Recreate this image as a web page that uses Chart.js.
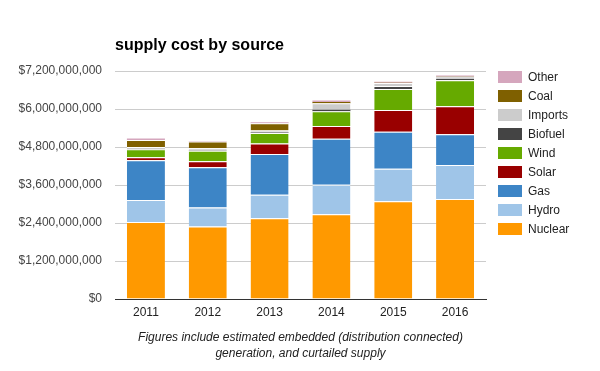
<!DOCTYPE html>
<html lang="en">
<head>
    <meta charset="UTF-8">
    <title>supply cost by source</title>
    <script src="https://cdn.jsdelivr.net/npm/chart.js"></script>
    <style>
        html, body { margin: 0; padding: 0; background: #fff; }
        #wrap { position: relative; width: 600px; height: 371px; }
    </style>
</head>
<body>
    <div id="wrap"><canvas id="costChart" width="600" height="371"></canvas></div>

    <script>
        // years on the x axis
        var years = ['2011', '2012', '2013', '2014', '2015', '2016'];

        // cost per source, dollars
        var nuclear = [2.43e9, 2.29e9, 2.55e9, 2.68e9, 3.09e9, 3.16e9];
        var hydro   = [0.70e9, 0.60e9, 0.74e9, 0.93e9, 1.02e9, 1.07e9];
        var gas     = [1.25e9, 1.27e9, 1.29e9, 1.45e9, 1.17e9, 0.97e9];
        var solar   = [0.10e9, 0.19e9, 0.33e9, 0.40e9, 0.69e9, 0.89e9];
        var wind    = [0.25e9, 0.33e9, 0.33e9, 0.47e9, 0.66e9, 0.82e9];
        var biofuel = [0.01e9, 0.01e9, 0.02e9, 0.05e9, 0.10e9, 0.08e9];
        var imports = [0.06e9, 0.07e9, 0.06e9, 0.20e9, 0.09e9, 0.03e9];
        var coal    = [0.22e9, 0.21e9, 0.23e9, 0.04e9, 0.01e9, 0.01e9];
        var other   = [0.05e9, 0.02e9, 0.03e9, 0.05e9, 0.03e9, 0.03e9];

        var yMax = 7.2e9;
        var yStep = 1.2e9;

        var FONT = '"Liberation Sans", Arial, sans-serif';

        // thin slices keep their colour, bigger ones get a white seam on top
        function seam(context) {
            var v = context.raw || 0;
            return { top: v >= 0.06e9 ? 1 : 0, left: 0, right: 0, bottom: 0 };
        }

        function series(label, values, color) {
            return {
                label: label,
                data: values,
                backgroundColor: color,
                borderColor: '#ffffff',
                borderWidth: seam,
                borderSkipped: false,
                barPercentage: 0.615,
                categoryPercentage: 1.0
            };
        }

        // bottom of the stack first
        var datasets = [
            series('Nuclear', nuclear, '#ff9900'),
            series('Hydro', hydro, '#9fc5e8'),
            series('Gas', gas, '#3d85c6'),
            series('Solar', solar, '#990000'),
            series('Wind', wind, '#66aa00'),
            series('Biofuel', biofuel, '#444444'),
            series('Imports', imports, '#cccccc'),
            series('Coal', coal, '#7f6000'),
            series('Other', other, '#d5a6bd')
        ];

        // title, footnote and legend drawn by hand
        var extras = {
            id: 'extras',
            afterDraw: function (chart) {
                var c = chart.ctx;
                var area = chart.chartArea;
                c.save();

                c.fillStyle = '#000';
                c.font = 'bold 16px ' + FONT;
                c.textAlign = 'left';
                c.textBaseline = 'alphabetic';
                c.fillText('supply cost by source', area.left, 50);

                c.fillStyle = '#222';
                c.font = 'italic 12px ' + FONT;
                c.textAlign = 'center';
                var mid = (area.left + area.right) / 2;
                c.fillText('Figures include estimated embedded (distribution connected)', mid, 341);
                c.fillText('generation, and curtailed supply', mid, 357);

                // legend, top item is the last dataset
                c.font = '12px ' + FONT;
                c.textAlign = 'left';
                c.textBaseline = 'middle';
                var ds = chart.data.datasets;
                for (var i = ds.length - 1, row = 0; i >= 0; i--, row++) {
                    var cy = 76.7 + row * 19.06;
                    c.fillStyle = ds[i].backgroundColor;
                    c.fillRect(498, Math.round(cy - 6), 24, 12);
                    c.fillStyle = '#222';
                    c.fillText(ds[i].label, 528, cy + 0.5);
                }
                c.restore();
            }
        };

        var ctx = document.getElementById('costChart').getContext('2d');
        var costChart = new Chart(ctx, {
            type: 'bar',
            data: { labels: years, datasets: datasets },
            plugins: [extras],
            options: {
                responsive: false,
                animation: false,
                layout: { padding: { left: 0, right: 114, top: 71, bottom: 42 } },
                plugins: {
                    legend: { display: false },
                    title: { display: false },
                    tooltip: { enabled: false }
                },
                scales: {
                    x: {
                        stacked: true,
                        grid: { display: false, drawTicks: false },
                        border: { display: true, color: '#333333', width: 1 },
                        ticks: { color: '#222', font: { family: FONT, size: 12 }, padding: 6 },
                        afterFit: function (scale) { scale.height = 30; }
                    },
                    y: {
                        stacked: true,
                        min: 0,
                        max: yMax,
                        grid: { color: '#cccccc', drawTicks: false },
                        border: { display: false },
                        ticks: {
                            stepSize: yStep,
                            color: '#444',
                            padding: 13,
                            font: { family: FONT, size: 12 },
                            callback: function (v) { return '$' + Number(v).toLocaleString('en-US'); }
                        },
                        afterFit: function (scale) { scale.width = 115; }
                    }
                }
            }
        });
    </script>
</body>
</html>
